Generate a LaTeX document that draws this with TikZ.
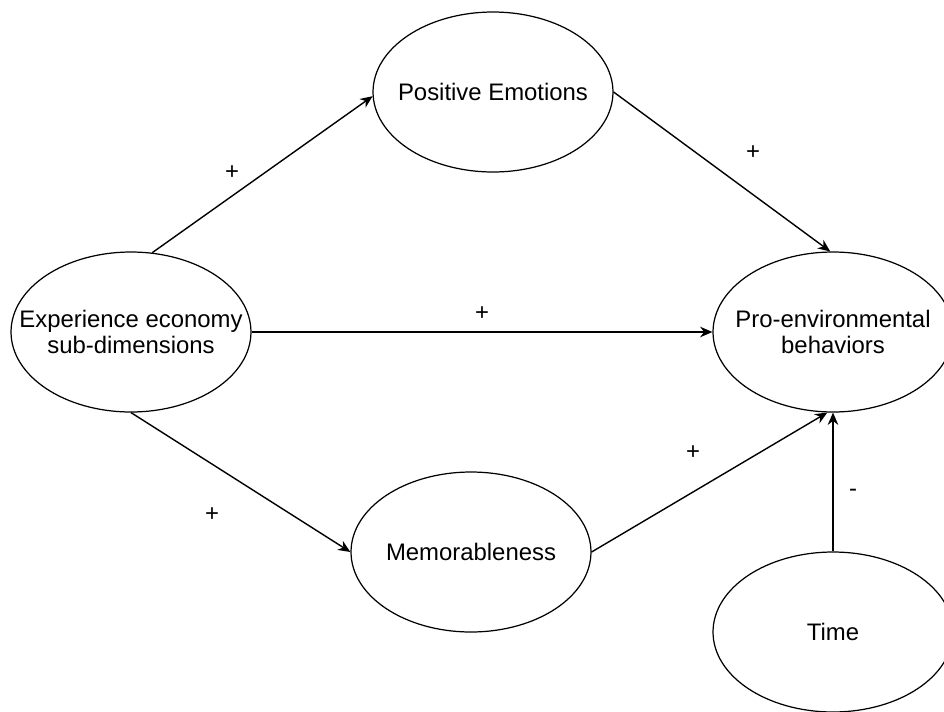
\documentclass[tikz,border=0pt]{standalone}
\usepackage{fontspec}
\setmainfont{Liberation Sans}
\usepackage{tikz}
\usetikzlibrary{shapes.geometric, arrows.meta, positioning}
\tikzstyle{construct} = [ellipse, draw=black, line width=0.7pt, minimum width=4.8cm, minimum height=3.2cm, inner xsep=-1.2cm, inner ysep=0pt, align=center, font=\fontsize{13.6}{14.4}\selectfont]
\tikzstyle{arrow} = [line width=0.8pt, -{Stealth[length=7pt, width=6pt]}]
\tikzstyle{sign} = [font=\fontsize{13.6}{14.4}\selectfont, inner sep=1pt]

\begin{document}
\begin{tikzpicture}[x=0.02cm, y=-0.02cm]
            \useasboundingbox (0,0) rectangle (944,711);
            % constructs
            \node[construct] (exp) at (131,332) {Experience economy\\sub-dimensions};
            \node[construct] (emo) at (493,92) {Positive Emotions};
            \node[construct] (mem) at (471,552) {Memorableness};
            \node[construct] (peb) at (833,332) {Pro-environmental\\behaviors};
            \node[construct] (time) at (833,632) {Time};
            % paths
            \draw[arrow] (exp.75) -- (emo.182);
            \draw[arrow] (emo.east) -- (peb.92);
            \draw[arrow] (exp.east) -- (peb.west);
            \draw[arrow] (exp.south) -- (mem.west);
            \draw[arrow] (mem.east) -- (peb.266);
            \draw[arrow] (time.north) -- (peb.south);
            % signs
            \node[sign] (s1) at (232,173) {+};
            \node[sign] (s2) at (753,153) {+};
            \node[sign] (s3) at (482,314) {+};
            \node[sign] (s4) at (212,515) {+};
            \node[sign] (s5) at (693,453) {+};
            \node[sign] (s6) at (853,493) {-};
        \end{tikzpicture}
\end{document}
